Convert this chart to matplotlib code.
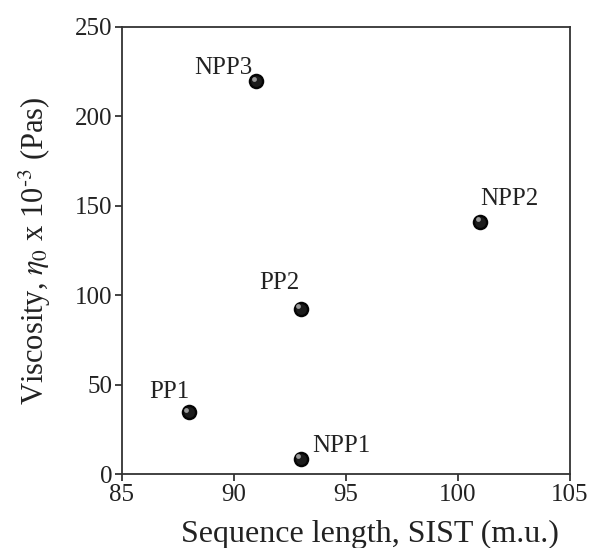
import matplotlib
matplotlib.use("Agg")
import matplotlib.pyplot as plt
import matplotlib.transforms as mtransforms

plt.rcParams['font.family'] = ['Liberation Serif', 'DejaVu Serif']
plt.rcParams['mathtext.fontset'] = 'stix'

# data
names = ["PP1", "NPP1", "PP2", "NPP3", "NPP2"]
sist = [88, 93, 93, 91, 101]
viscosity = [34.5, 8.4, 92.5, 219.5, 141]

# label offsets (points) and alignment for each point
label_dx = [-14, 8, -16, -3, 21]
label_dy = [10, 5, 14, 5, 12]
label_ha = ["center", "left", "center", "right", "center"]

fig = plt.figure(figsize=(5.92, 5.48), dpi=100)
ax = fig.add_axes([0.206, 0.135, 0.757, 0.816])

# dark "ball" markers with a small highlight
ax.scatter(sist, viscosity, s=125, color="#050505", zorder=3, linewidths=0)
ax.scatter(sist, viscosity, s=60, color="#1c1c1c", zorder=4, linewidths=0)
hl = mtransforms.offset_copy(ax.transData, fig=fig, x=-2, y=2, units='points')
ax.scatter(sist, viscosity, s=12, color="#9a9a9a", zorder=5, transform=hl, linewidths=0)

for n, x, y, dx, dy, ha in zip(names, sist, viscosity, label_dx, label_dy, label_ha):
    ax.annotate(n, (x, y), xytext=(dx, dy), textcoords="offset points",
                ha=ha, va="baseline", fontsize=18, color="#222222")

ax.set_xlim(85, 105)
ax.set_ylim(0, 250)
ax.set_xticks([85, 90, 95, 100, 105])
ax.set_yticks([0, 50, 100, 150, 200, 250])
ax.tick_params(direction="out", length=5, width=1.2, labelsize=18, colors="#222222",
               top=False, right=False, pad=2)
for sp in ax.spines.values():
    sp.set_linewidth(1.3)
    sp.set_color("#333333")

ax.set_xlabel("Sequence length, SIST (m.u.)", fontsize=23, color="#222222")
ax.xaxis.set_label_coords(0.553, -0.103)
ax.set_ylabel(r"Viscosity, $\eta_0$ x 10$^{\text{-3}}$ (Pas)", fontsize=22,
              color="#222222", labelpad=16)

fig.savefig("out.png", dpi=100)
